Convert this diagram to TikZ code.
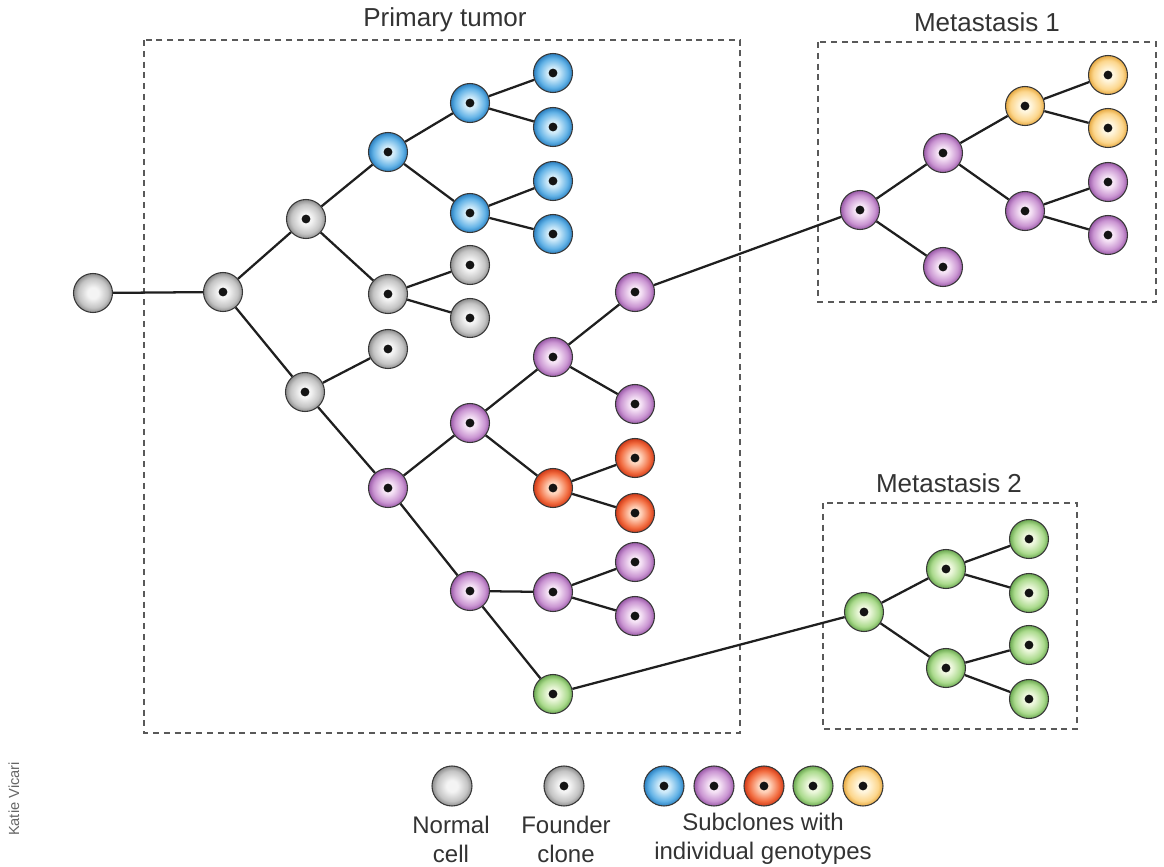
\documentclass[tikz,border=0pt]{standalone}
\usepackage{fontspec}
\setmainfont{Liberation Sans}
\definecolor{grayin}{HTML}{F4F4F4}
\definecolor{graymid}{HTML}{C4C4C4}
\definecolor{grayout}{HTML}{8E8E8E}
\definecolor{bluein}{HTML}{D2ECFA}
\definecolor{bluemid}{HTML}{62B2E6}
\definecolor{blueout}{HTML}{2A7FC0}
\definecolor{purplein}{HTML}{F6E4F6}
\definecolor{purplemid}{HTML}{CA95D2}
\definecolor{purpleout}{HTML}{9A5AA8}
\definecolor{redin}{HTML}{FFD4BC}
\definecolor{redmid}{HTML}{F26C40}
\definecolor{redout}{HTML}{D03A18}
\definecolor{greenin}{HTML}{EEF8DE}
\definecolor{greenmid}{HTML}{AADA8C}
\definecolor{greenout}{HTML}{6AA850}
\definecolor{yellowin}{HTML}{FFF6DE}
\definecolor{yellowmid}{HTML}{FCD68C}
\definecolor{yellowout}{HTML}{E6A840}
\definecolor{txt}{HTML}{333333}
\newcommand\mkcellshading[1]{%
  \pgfdeclareradialshading{sh#1}{\pgfpoint{0bp}{0bp}}{%
    color(0bp)=(#1in); color(7bp)=(#1in); color(19bp)=(#1mid);
    color(25bp)=(#1out); color(50bp)=(#1out)}}
\mkcellshading{gray}
\mkcellshading{blue}
\mkcellshading{purple}
\mkcellshading{red}
\mkcellshading{green}
\mkcellshading{yellow}
\begin{document}
\begin{tikzpicture}[x=0.75pt,y=-0.75pt,
  cellbase/.style={circle, inner sep=0pt, minimum size=29.25pt,
    draw=black!78, line width=0.8pt, shade, shading=sh#1},
  cell/.style={cellbase=#1,
    path picture={\fill[black!92] (path picture bounding box.center) circle (3.3pt);}},
  normalcell/.style={cellbase=gray},
  link/.style={draw=black!88, line width=1.7pt},
  tumorbox/.style={draw=black!65, line width=0.9pt, dash pattern=on 4.5pt off 3.6pt},
  title/.style={text=txt, font=\fontsize{19.5}{23}\selectfont},
  legtext/.style={text=txt, font=\fontsize{18}{21.75}\selectfont, align=center}
]
\useasboundingbox (0,0) rectangle (1164,867);

% boxes and titles
\draw[tumorbox] (144,40) rectangle (740,733);
\draw[tumorbox] (818,42) rectangle (1156,302);
\draw[tumorbox] (823,503) rectangle (1077,729);
\node[title] (tprim) at (445,20) {Primary tumor};
\node[title] (tmet1) at (987,22) {Metastasis 1};
\node[title] (tmet2) at (949,483) {Metastasis 2};

% primary tumor cells
\node[normalcell] (normal) at (93,293) {};
\node[cell=gray] (founder) at (223,292) {};
\node[cell=gray] (g1) at (306,219) {};
\node[cell=gray] (g2) at (388,294) {};
\node[cell=gray] (g2a) at (470,265) {};
\node[cell=gray] (g2b) at (470,318) {};
\node[cell=gray] (g3) at (305,392) {};
\node[cell=gray] (g3a) at (388,349) {};
\node[cell=blue] (b1) at (388,152) {};
\node[cell=blue] (b11) at (470,103) {};
\node[cell=blue] (b111) at (553,73) {};
\node[cell=blue] (b112) at (553,127) {};
\node[cell=blue] (b12) at (470,213) {};
\node[cell=blue] (b121) at (553,181) {};
\node[cell=blue] (b122) at (553,234) {};
\node[cell=purple] (p1) at (388,488) {};
\node[cell=purple] (p11) at (470,423) {};
\node[cell=purple] (p111) at (553,357) {};
\node[cell=purple] (p1111) at (635,292) {};
\node[cell=purple] (p112) at (635,404) {};
\node[cell=red] (r) at (553,488) {};
\node[cell=red] (r1) at (635,458) {};
\node[cell=red] (r2) at (635,513) {};
\node[cell=purple] (p12) at (470,591) {};
\node[cell=purple] (p121) at (553,592) {};
\node[cell=purple] (p1211) at (635,562) {};
\node[cell=purple] (p1212) at (635,616) {};
\node[cell=green] (gr) at (553,694) {};

% metastasis 1
\node[cell=purple] (m0) at (860,210) {};
\node[cell=purple] (m1) at (943,153) {};
\node[cell=purple] (m2) at (943,267) {};
\node[cell=yellow] (ya) at (1025,106) {};
\node[cell=yellow] (y1) at (1108,75) {};
\node[cell=yellow] (y2) at (1108,128) {};
\node[cell=purple] (pb) at (1025,211) {};
\node[cell=purple] (q1) at (1108,182) {};
\node[cell=purple] (q2) at (1108,235) {};

% metastasis 2
\node[cell=green] (n0) at (864,612) {};
\node[cell=green] (n1) at (946,569) {};
\node[cell=green] (n11) at (1029,539) {};
\node[cell=green] (n12) at (1029,593) {};
\node[cell=green] (n2) at (946,668) {};
\node[cell=green] (n21) at (1029,645) {};
\node[cell=green] (n22) at (1029,699) {};

% connectors
\foreach \a/\b in {normal/founder, founder/g1, founder/g3, g1/b1, g1/g2,
  b1/b11, b1/b12, b11/b111, b11/b112, b12/b121, b12/b122,
  g2/g2a, g2/g2b, g3/g3a, g3/p1, p1/p11, p1/p12, p11/p111, p11/r,
  p111/p1111, p111/p112, r/r1, r/r2, p12/p121, p12/gr, p121/p1211, p121/p1212,
  p1111/m0, gr/n0, m0/m1, m0/m2, m1/ya, m1/pb, ya/y1, ya/y2, pb/q1, pb/q2,
  n0/n1, n0/n2, n1/n11, n1/n12, n2/n21, n2/n22}
  \draw[link] (\a) -- (\b);

% legend
\node[normalcell, minimum size=30pt] (lnormal) at (452,786) {};
\node[cell=gray, minimum size=30pt] (lfounder) at (564,786) {};
\node[cell=blue, minimum size=30pt] (lblue) at (664,786) {};
\node[cell=purple, minimum size=30pt] (lpurple) at (714,786) {};
\node[cell=red, minimum size=30pt] (lred) at (764,786) {};
\node[cell=green, minimum size=30pt] (lgreen) at (813,786) {};
\node[cell=yellow, minimum size=30pt] (lyellow) at (863,786) {};
\node[legtext] (tnormal) at (451,839) {Normal\\cell};
\node[legtext] (tfounder) at (566,839) {Founder\\clone};
\node[legtext] (tsub) at (763,839) {Subclones with\\individual genotypes};

\node[rotate=90, text=black!60, font=\fontsize{11}{13}\selectfont] (credit) at (14,799) {Katie Vicari};
\end{tikzpicture}
\end{document}
